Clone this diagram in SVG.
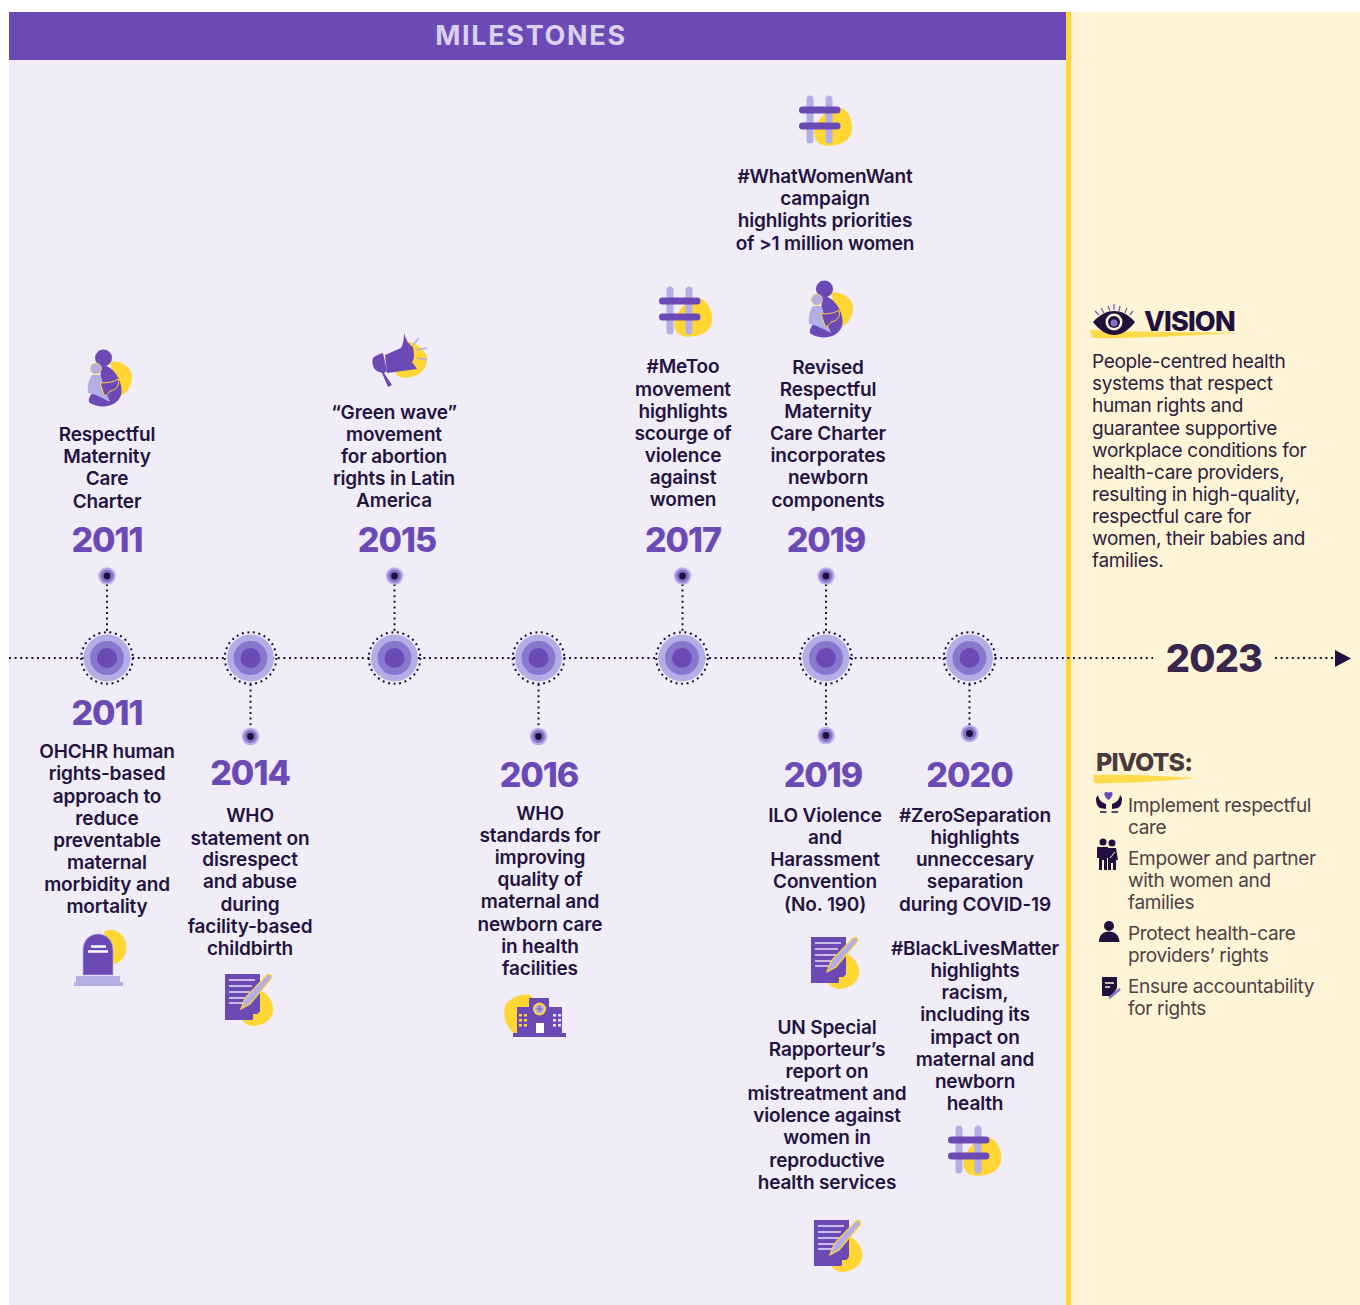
<svg xmlns="http://www.w3.org/2000/svg" width="1360" height="1305" viewBox="0 0 1360 1305">
<style>
text{font-family:Inter,"Liberation Sans",sans-serif}
.t{font-size:19px;font-weight:600;fill:#24133f;text-anchor:middle;letter-spacing:-.15px}
.y{font-size:34px;font-weight:800;fill:#6c4ab6;text-anchor:middle;letter-spacing:-1px}
.b{font-size:19px;font-weight:400;fill:#2e2040;letter-spacing:-.33px}
.p{font-size:19px;font-weight:400;fill:#4f4049;letter-spacing:-.33px}
.d{fill:none;stroke:#1f0e3d;stroke-width:2;stroke-dasharray:2 3.6}
.pu{fill:#6c4ab6}.la{fill:#b3aee6}.ye{fill:#ffd633}.da{fill:#21103e}
</style>
<defs>
<g id="big"><circle r="23.500" class="la"/><circle r="17" fill="#8877cc"/><circle r="10" class="pu"/><circle r="25.800" class="d"/></g>
<g id="small"><circle r="8.700" class="la"/><circle r="6.500" fill="#8570c6"/><circle r="3.400" class="da"/></g>
<g id="hash"><path class="ye" d="M838 107C846 108 851 116 852 125C853 134 849 140 842 143C835 146 826 147 820 144C815 141 813 134 815 128C818 120 828 106 838 107Z"/>
<path d="M810 99V140M829 99V140" stroke="#b3aee6" stroke-width="7" stroke-linecap="round" fill="none"/>
<path d="M802.500 110H837M802.500 126H837" stroke="#6c4ab6" stroke-width="7" stroke-linecap="round" fill="none"/></g>
<g id="mother"><path class="ye" d="M110 362C118 360 128 365 131 372C134 380 130 388 126 392L118 398Z"/>
<circle class="pu" cx="103.500" cy="358" r="8.500"/>
<path class="pu" d="M101 365C110 365 117 373 120 382C123 391 122 398 115 403C108 408 97 407 90 403C86 400 92 392 100 385Z"/>
<circle class="la" cx="96" cy="368.500" r="5.500" stroke="#ffd633" stroke-width=".7"/>
<path class="la" d="M92 375H100C103 379 102 384 104 387C105 392 108 396 110 402C102 398 96 394 88 393C87 386 89 379 92 375Z"/>
<path class="pu" d="M100 383C107 383 114 382 118 379C120 386 116 390 110 391C108 394 106 396 104 395Z" stroke="#ffd633" stroke-width="1"/></g>
<g id="doc"><path class="ye" d="M242 992C254 984 270 992 273 1006C275 1018 265 1025 254 1026C246 1026 240 1020 238 1012Z"/>
<path class="pu" d="M225 974H260V1011L252 1020H225Z"/>
<path d="M229 980H255M229 986H252M229 992H250M229 998H248M229 1003H245" stroke="#e8e4f6" stroke-width="1.500" fill="none"/>
<path class="la" stroke="#ffd633" stroke-width="1.200" d="M241 1009L245 998L267 975C270 973 273 976 271 979L250 1004Z"/>
<path class="ye" d="M253 1019V1014H259Z"/></g>
</defs>
<rect width="1360" height="1305" fill="#fff"/>
<rect x="9" y="12" width="1057" height="1293" fill="#f0edf8"/>
<rect x="1071" y="12" width="289" height="1293" fill="#fff5d6"/>
<rect x="1066" y="12" width="5" height="1293" class="ye"/>
<rect id="banner" x="9" y="12" width="1057" height="48" class="pu"/>
<text x="531" y="45" text-anchor="middle" font-size="27" font-weight="700" fill="#d8d2ee" letter-spacing="1.700">MILESTONES</text>

<g id="connectors">
<path class="d" d="M9 658H1153M1275 658H1336"/>
<path class="d" d="M107 584V632M394.500 584V632M682.500 584V632M826 584V632M250.500 684V728M538.500 684V728M826 684V727M969.500 684V725"/>
<polygon class="da" points="1335,650 1351,658.500 1335,667"/>
</g>

<g id="nodes-timeline">
<use href="#big" x="107" y="658"/><use href="#big" x="250.500" y="658"/><use href="#big" x="394.500" y="658"/><use href="#big" x="538.500" y="658"/><use href="#big" x="682" y="658"/><use href="#big" x="826" y="658"/><use href="#big" x="969.500" y="658"/>
<use href="#small" x="107" y="576"/><use href="#small" x="394.500" y="576"/><use href="#small" x="682.500" y="576"/><use href="#small" x="826" y="576"/>
<use href="#small" x="250.500" y="736.500"/><use href="#small" x="538.500" y="736.500"/><use href="#small" x="826" y="735.500"/><use href="#small" x="969.500" y="733.500"/>
</g>

<g id="m2011a">
<use href="#mother"/>
<text class="t" x="107"><tspan x="107" y="441">Respectful</tspan><tspan x="107" y="463">Maternity</tspan><tspan x="107" y="485">Care</tspan><tspan x="107" y="508">Charter</tspan></text>
<text class="y" x="107" y="552">2011</text>
</g>
<g id="m2011b">
<text class="y" x="107" y="725">2011</text>
<text class="t"><tspan x="107" y="758">OHCHR human</tspan><tspan x="107" y="780">rights-based</tspan><tspan x="107" y="803">approach to</tspan><tspan x="107" y="825">reduce</tspan><tspan x="107" y="847">preventable</tspan><tspan x="107" y="869">maternal</tspan><tspan x="107" y="891">morbidity and</tspan><tspan x="107" y="913">mortality</tspan></text>
<path class="ye" d="M104 932C112 927 124 932 126 944C128 956 120 965 110 964Z"/>
<path class="pu" stroke="#b3aee6" stroke-width=".7" d="M83 975V950C83 940 90 934 98 934C107 934 113 941 113 950V975Z"/>
<path d="M91 946.500H106M88 951.500H108" stroke="#fff" stroke-width="2.600"/>
<rect class="la" x="76" y="976" width="44" height="6"/><rect class="la" x="74" y="982" width="49" height="4"/>
</g>
<g id="m2014">
<text class="y" x="250" y="785">2014</text>
<text class="t"><tspan x="250" y="822">WHO</tspan><tspan x="250" y="845">statement on</tspan><tspan x="250" y="866">disrespect</tspan><tspan x="250" y="888">and abuse</tspan><tspan x="250" y="911">during</tspan><tspan x="250" y="933">facility-based</tspan><tspan x="250" y="955">childbirth</tspan></text>
<use href="#doc"/>
</g>
<g id="m2015">
<path class="ye" d="M407 342C416 342 426 350 427 358C427 366 423 372 417 375C410 378 402 379 397 375C393 371 398 362 401 355Z"/>
<path class="pu" d="M385 355L401 348C403 345 404 339 404 333C406 340 409 345 413 347C414 353 415 359 412 362C414 365 416 367 417 369L387 373Z"/>
<path class="pu" d="M373 358C376 355 380 354 383 353L387 371L384 373L392 385L388 387L382 373C378 372 375 370 374 368C372 364 372 361 373 358Z"/>
<path d="M413 345L419 338M417 350L427 348M417 358L427 360" stroke="#b3aee6" stroke-width="1.500" fill="none"/>
<text class="t"><tspan x="394" y="419">“Green wave”</tspan><tspan x="394" y="441">movement</tspan><tspan x="394" y="463">for abortion</tspan><tspan x="394" y="485">rights in Latin</tspan><tspan x="394" y="507">America</tspan></text>
<text class="y" x="397" y="552">2015</text>
</g>
<g id="m2016">
<text class="y" x="539" y="787">2016</text>
<text class="t"><tspan x="540" y="820">WHO</tspan><tspan x="540" y="842">standards for</tspan><tspan x="540" y="864">improving</tspan><tspan x="540" y="886">quality of</tspan><tspan x="540" y="908">maternal and</tspan><tspan x="540" y="931">newborn care</tspan><tspan x="540" y="953">in health</tspan><tspan x="540" y="975">facilities</tspan></text>
<path class="ye" d="M506 1004C512 997 522 993 530 995C536 997 534 1020 528 1030L516 1034C507 1030 501 1014 506 1004Z"/>
<path class="pu" d="M517 1007H529V998H549V1007H562V1033H566V1037H513V1033H517Z"/>
<circle class="ye" cx="539.500" cy="1009" r="6.500"/><circle class="la" cx="539.500" cy="1009" r="4.500"/>
<path d="M539.500 1006V1012M536.500 1009H542.500" stroke="#8570c6" stroke-width="1.500"/>
<rect x="536" y="1023" width="8" height="10" fill="#fff"/>
<path d="M519 1014h3v2.500h-3zM524 1014h3v2.500h-3zM519 1019h3v2.500h-3zM524 1019h3v2.500h-3zM519 1024h3v2.500h-3zM524 1024h3v2.500h-3z" class="ye"/>
<path d="M553 1014h3v2.500h-3zM558 1014h3v2.500h-3zM553 1019h3v2.500h-3zM558 1019h3v2.500h-3zM553 1024h3v2.500h-3zM558 1024h3v2.500h-3z" fill="#e8e4f6"/>
</g>
<g id="m2017">
<use href="#hash" x="-140" y="191"/>
<text class="t"><tspan x="683" y="373">#MeToo</tspan><tspan x="683" y="396">movement</tspan><tspan x="683" y="418">highlights</tspan><tspan x="683" y="440">scourge of</tspan><tspan x="683" y="462">violence</tspan><tspan x="683" y="484">against</tspan><tspan x="683" y="506">women</tspan></text>
<text class="y" x="683" y="552">2017</text>
</g>
<g id="m2019top">
<use href="#hash"/>
<text class="t"><tspan x="825" y="183">#WhatWomenWant</tspan><tspan x="825" y="205">campaign</tspan><tspan x="825" y="227">highlights priorities</tspan><tspan x="825" y="250">of &gt;1 million women</tspan></text>
<use href="#mother" x="721" y="-69"/>
<text class="t"><tspan x="828" y="374">Revised</tspan><tspan x="828" y="396">Respectful</tspan><tspan x="828" y="418">Maternity</tspan><tspan x="828" y="440">Care Charter</tspan><tspan x="828" y="462">incorporates</tspan><tspan x="828" y="484">newborn</tspan><tspan x="828" y="507">components</tspan></text>
<text class="y" x="826" y="552">2019</text>
</g>
<g id="m2019bottom">
<text class="y" x="823" y="787">2019</text>
<text class="t"><tspan x="825" y="822">ILO Violence</tspan><tspan x="825" y="844">and</tspan><tspan x="825" y="866">Harassment</tspan><tspan x="825" y="888">Convention</tspan><tspan x="825" y="911">(No. 190)</tspan></text>
<use href="#doc" x="586" y="-37"/>
<text class="t"><tspan x="827" y="1034">UN Special</tspan><tspan x="827" y="1056">Rapporteur’s</tspan><tspan x="827" y="1078">report on</tspan><tspan x="827" y="1100">mistreatment and</tspan><tspan x="827" y="1122">violence against</tspan><tspan x="827" y="1144">women in</tspan><tspan x="827" y="1167">reproductive</tspan><tspan x="827" y="1189">health services</tspan></text>
<use href="#doc" x="589" y="246"/>
</g>
<g id="m2020">
<text class="y" x="969.500" y="787">2020</text>
<text class="t"><tspan x="975" y="822">#ZeroSeparation</tspan><tspan x="975" y="844">highlights</tspan><tspan x="975" y="866">unneccesary</tspan><tspan x="975" y="888">separation</tspan><tspan x="975" y="911">during COVID-19</tspan></text>
<text class="t"><tspan x="975" y="955">#BlackLivesMatter</tspan><tspan x="975" y="977">highlights</tspan><tspan x="975" y="999">racism,</tspan><tspan x="975" y="1021">including its</tspan><tspan x="975" y="1044">impact on</tspan><tspan x="975" y="1066">maternal and</tspan><tspan x="975" y="1088">newborn</tspan><tspan x="975" y="1110">health</tspan></text>
<use href="#hash" x="149" y="1030"/>
</g>

<g id="vision">
<path class="ye" d="M1090 330C1130 332 1190 332 1238 333C1200 335 1130 339 1092 338Z" opacity=".85"/>
<path d="M1095 311L1099 315M1101 308L1104 313M1108 306L1110 311M1114 304V310M1120 306L1119 311M1127 308L1125 313M1133 311L1130 315" stroke="#7a5cc0" stroke-width="1.300" fill="none"/>
<path class="da" d="M1093 322C1100 314 1108 311 1114 311C1121 311 1128 314 1135 322C1128 331 1121 335 1114 335C1107 335 1100 331 1093 322Z"/>
<circle cx="1114" cy="322" r="8.500" fill="#fff5d6"/><circle cx="1114" cy="322" r="6" class="da"/><circle cx="1114" cy="323" r="3.500" fill="#8570c6"/>
<text x="1144" y="331" font-size="27" font-weight="800" fill="#21103e" letter-spacing="-.8">VISION</text>
<text class="b"><tspan x="1092" y="368">People-centred health</tspan><tspan x="1092" y="390">systems that respect</tspan><tspan x="1092" y="412">human rights and</tspan><tspan x="1092" y="435">guarantee supportive</tspan><tspan x="1092" y="457">workplace conditions for</tspan><tspan x="1092" y="479">health-care providers,</tspan><tspan x="1092" y="501">resulting in high-quality,</tspan><tspan x="1092" y="523">respectful care for</tspan><tspan x="1092" y="545">women, their babies and</tspan><tspan x="1092" y="567">families.</tspan></text>
</g>
<text x="1214" y="672" text-anchor="middle" font-size="38" font-weight="800" fill="#38264f" letter-spacing="-.8">2023</text>

<g id="pivots">
<path class="ye" d="M1094 775C1120 774 1165 776 1196 778C1165 781 1120 784 1094 783Z" opacity=".85"/>
<text x="1096" y="771" font-size="25" font-weight="800" fill="#4a3a3f" letter-spacing="-.9">PIVOTS:</text>
<g id="p1"><path class="pu" d="M1108.500 800C1103 796 1103 790 1108.500 792.500C1114 790 1114 796 1108.500 800Z"/>
<path class="da" d="M1096 798L1098 795C1099 800 1101 802 1106 804V809L1100 808C1097 806 1096 803 1096 798ZM1122 798L1120 795C1119 800 1117 802 1112 804V809L1118 808C1121 806 1122 803 1122 798Z"/>
<path d="M1100 812H1106.500M1111.500 812H1118" stroke="#21103e" stroke-width="1.500"/>
<text class="p" x="1128" y="812">Implement respectful</text><text class="p" x="1128" y="834">care</text></g>
<g id="p2"><circle class="da" cx="1103" cy="842" r="3.500"/><circle class="da" cx="1112" cy="843" r="3.500"/>
<path class="da" d="M1097 847H1108V858H1107V870H1104V860H1102V870H1099V858H1097Z"/>
<path class="da" d="M1108 848H1116L1118 860H1116V870H1113V863H1111V870H1108V860Z"/>
<path d="M1110 858L1115 852" stroke="#fff5d6" stroke-width="1"/>
<text class="p"><tspan x="1128" y="865">Empower and partner</tspan><tspan x="1128" y="887">with women and</tspan><tspan x="1128" y="909">families</tspan></text></g>
<g id="p3"><circle class="da" cx="1109" cy="926" r="5"/><path class="da" d="M1099 942C1099 935 1103 931.500 1109 931.500C1115 931.500 1119 935 1119.500 942Z"/>
<text class="p"><tspan x="1128" y="940">Protect health-care</tspan><tspan x="1128" y="962">providers’ rights</tspan></text></g>
<g id="p4"><path class="da" d="M1102 977H1117V988L1112 996H1102Z"/><path d="M1105 983H1114M1105 987H1110" stroke="#fff5d6" stroke-width="1.300"/>
<path d="M1109 998L1120 989" stroke="#8570c6" stroke-width="2.500"/>
<text class="p"><tspan x="1128" y="993">Ensure accountability</tspan><tspan x="1128" y="1015">for rights</tspan></text></g>
</g>
</svg>
